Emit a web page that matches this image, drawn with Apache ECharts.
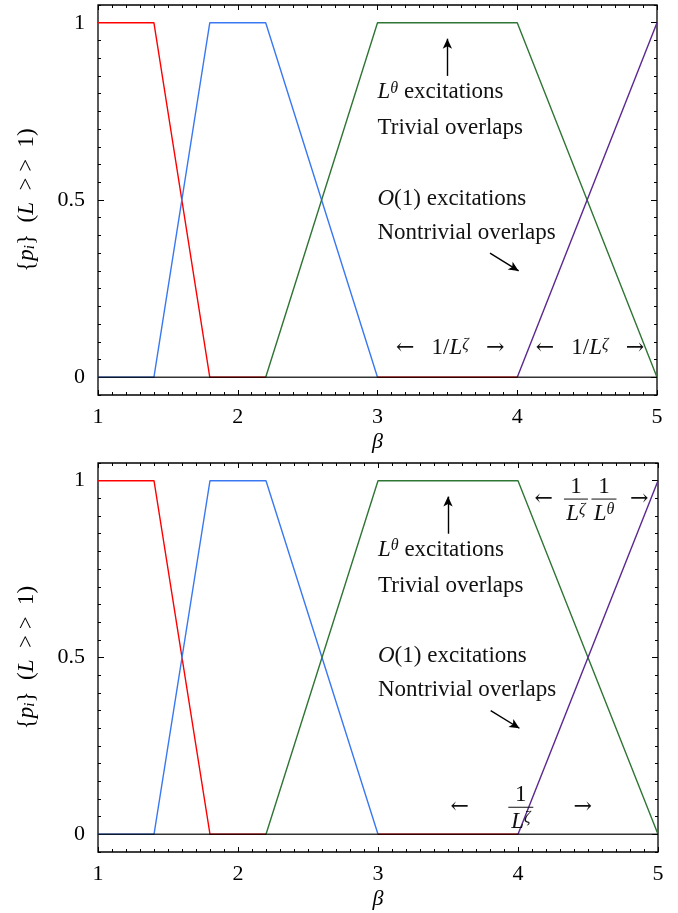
<!DOCTYPE html>
<html>
<head>
<meta charset="utf-8">
<script src="https://cdn.jsdelivr.net/npm/echarts@6/dist/echarts.min.js"></script>
<style>
  html, body { margin: 0; padding: 0; background: #fff; }
  #chart { width: 678px; height: 913px; }
</style>
</head>
<body>
<div id="chart"></div>
<script>
// tick labels
const xTickLabels = [1, 2, 3, 4, 5];
const yTickLabels = [0, 0.5, 1];

// curves (beta, p_i) - same in both panels
const redLine = [[1, 1], [1.4, 1], [1.8, 0], [2.2, 0], [2.2, null], [3, 0], [4, 0]];
const blueLine = [[1, 0], [1.4, 0], [1.8, 1], [2.2, 1], [3, 0]];
const greenLine = [[2.2, 0], [3, 1], [4, 1], [5, 0]];
const purpleLine = [[4, 0], [5, 1]];
const zeroLine = [[1, 0], [5, 0]];

const FONT = '"Liberation Serif", "DejaVu Serif", serif';
const ARROWFONT = '"DejaVu Serif", serif';
const yMinorTicks = [];
for (let v = -0.05; v < 1.06; v += 0.05) yMinorTicks.push(Math.round(v * 100) / 100);

const chart = echarts.init(document.getElementById('chart'));

const grids = [
  { left: 98, top: 5, width: 559, height: 390, show: true, borderColor: '#000', borderWidth: 1.3, backgroundColor: 'transparent' },
  { left: 98, top: 463, width: 560, height: 389, show: true, borderColor: '#000', borderWidth: 1.3, backgroundColor: 'transparent' }
];

const xAxes = [];
const yAxes = [];
grids.forEach((g, gi) => {
  ['bottom', 'top'].forEach(pos => {
    xAxes.push({
      type: 'value', gridIndex: gi, position: pos, min: 1, max: 5, interval: 1,
      axisLine: { show: false, onZero: false },
      axisTick: { show: true, inside: true, length: 5, lineStyle: { color: '#000' } },
      minorTick: { show: true, splitNumber: 10, length: 3, lineStyle: { color: '#000' } },
      splitLine: { show: false },
      axisLabel: {
        show: pos === 'bottom', margin: 11, color: '#000',
        fontFamily: FONT, fontSize: 22,
        formatter: v => xTickLabels.includes(v) ? String(v) : ''
      },
      name: pos === 'bottom' ? 'β' : '',
      nameLocation: 'middle', nameGap: 36,
      nameTextStyle: { fontFamily: FONT, fontStyle: 'italic', fontSize: 22, color: '#000' }
    });
  });
  ['left', 'right'].forEach(pos => {
    // major ticks + labels
    yAxes.push({
      type: 'value', gridIndex: gi, position: pos, min: -0.05, max: 1.05,
      axisLine: { show: false, onZero: false },
      axisTick: { show: true, inside: true, length: 6, customValues: yTickLabels, lineStyle: { color: '#000' } },
      splitLine: { show: false },
      axisLabel: {
        show: pos === 'left', customValues: yTickLabels, margin: 13, color: '#000',
        fontFamily: FONT, fontSize: 22
      },
      name: pos === 'left' ? '{{it|p}{sub|i}}  ({it|L}  > >  1)' : '',
      nameLocation: 'middle', nameGap: 60, nameRotate: 90,
      nameTextStyle: {
        fontFamily: FONT, fontSize: 23, color: '#000',
        rich: {
          it: { fontFamily: FONT, fontStyle: 'italic', fontSize: 23, color: '#000' },
          sub: { fontFamily: FONT, fontStyle: 'italic', fontSize: 15, color: '#000', verticalAlign: 'bottom' }
        }
      }
    });
    // minor ticks
    yAxes.push({
      type: 'value', gridIndex: gi, position: pos, min: -0.05, max: 1.05,
      axisLine: { show: false, onZero: false },
      axisTick: { show: true, inside: true, length: 3, customValues: yMinorTicks, lineStyle: { color: '#000' } },
      splitLine: { show: false },
      axisLabel: { show: false }
    });
  });
});

const arrowLines = [
  [{ coord: [3.5, 0.85] }, { coord: [3.5, 0.955] }],
  [{ coord: [3.805, 0.35] }, { coord: [4.01, 0.30] }]
];

const series = [];
grids.forEach((g, gi) => {
  const axes = { xAxisIndex: gi * 2, yAxisIndex: gi * 4 };
  const mk = (data, color) => Object.assign({
    type: 'line', data, symbol: 'none', showSymbol: false, connectNulls: false,
    lineStyle: { color, width: 1.4 }, itemStyle: { color }, silent: true
  }, axes);
  series.push(mk(redLine, '#ff0000'));
  series.push(mk(blueLine, '#3a78f2'));
  series.push(mk(greenLine, '#2f7534'));
  series.push(mk(purpleLine, '#5a2790'));
  const z = mk(zeroLine, '#000');
  z.lineStyle = { color: '#000', width: 1.6, opacity: 0.8 };
  z.markLine = {
    silent: true, symbol: ['none', 'arrow'], symbolSize: [7, 10],
    label: { show: false },
    lineStyle: { color: '#000', width: 1.4, type: 'solid' },
    data: arrowLines
  };
  series.push(z);
});

chart.setOption({
  animation: false,
  backgroundColor: '#fff',
  grid: grids,
  xAxis: xAxes,
  yAxis: yAxes,
  series
});

// annotations
const rich = {
  it: { fontFamily: FONT, fontStyle: 'italic', fontSize: 23, fill: '#111' },
  sup: { fontFamily: FONT, fontStyle: 'italic', fontSize: 16, fill: '#111', verticalAlign: 'top' },
  ar: { fontFamily: ARROWFONT, fontSize: 22, fill: '#111' }
};
function px(gi, x, y) {
  return chart.convertToPixel({ xAxisIndex: gi * 2, yAxisIndex: gi * 4 }, [x, y]);
}
function txt(gi, x, y, text, align) {
  const p = px(gi, x, y);
  return {
    type: 'text', x: p[0], y: p[1], silent: true, z: 10,
    style: {
      text, rich, fill: '#111', fontFamily: FONT, fontSize: 23,
      textAlign: align, align: align, textVerticalAlign: 'middle', verticalAlign: 'middle'
    }
  };
}
function bar(gi, x, y, w) {
  const p = px(gi, x, y);
  return {
    type: 'line', silent: true, z: 10,
    shape: { x1: p[0] - w / 2, y1: p[1], x2: p[0] + w / 2, y2: p[1] },
    style: { stroke: '#111', lineWidth: 1 }
  };
}
function fraction(gi, x, yBar, den, w) {
  return [
    txt(gi, x, yBar + 0.035, '1', 'center'),
    bar(gi, x, yBar, w),
    txt(gi, x, yBar - 0.041, den, 'center')
  ];
}

const elements = [];
[0, 1].forEach(gi => {
  elements.push(txt(gi, 3.0, 0.805, '{it|L}{sup|θ} excitations', 'left'));
  elements.push(txt(gi, 3.0, 0.703, 'Trivial overlaps', 'left'));
  elements.push(txt(gi, 3.0, 0.503, '{it|O}(1) excitations', 'left'));
  elements.push(txt(gi, 3.0, 0.407, 'Nontrivial overlaps', 'left'));
});
// top panel widths
elements.push(txt(0, 3.52, 0.082, '{ar|←}\u2002 1/{it|L}{sup|ζ} \u2002{ar|→}', 'center'));
elements.push(txt(0, 4.52, 0.082, '{ar|←}\u2002 1/{it|L}{sup|ζ} \u2002{ar|→}', 'center'));
// bottom panel widths
elements.push(txt(1, 4.184, 0.948, '{ar|←}', 'center'));
elements.push(...fraction(1, 4.414, 0.948, '{it|L}{sup|ζ}', 24));
elements.push(...fraction(1, 4.614, 0.948, '{it|L}{sup|θ}', 25));
elements.push(txt(1, 4.865, 0.948, '{ar|→}', 'center'));
elements.push(txt(1, 3.583, 0.0765, '{ar|←}', 'center'));
elements.push(...fraction(1, 4.02, 0.0765, '{it|L}{sup|ζ}', 25));
elements.push(txt(1, 4.463, 0.0765, '{ar|→}', 'center'));

chart.setOption({ graphic: { elements } });
</script>
</body>
</html>
